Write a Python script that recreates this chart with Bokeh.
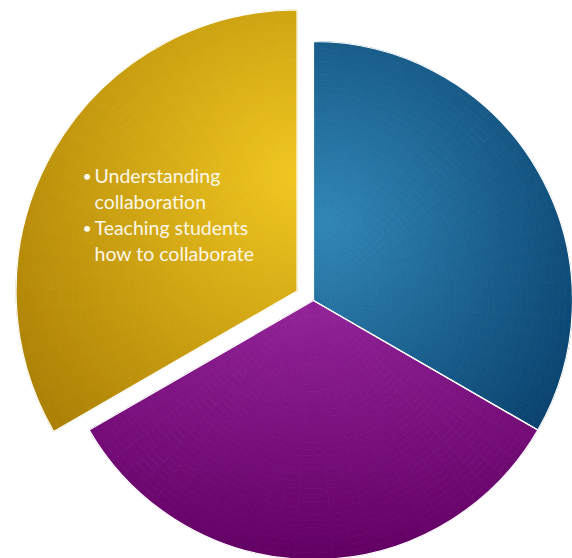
import math
from bokeh.plotting import figure
from bokeh.models import Range1d, ColumnDataSource
from bokeh.core.properties import value
from bokeh.embed import file_html
from bokeh.resources import INLINE

# ---- data ----
segments = ["Blue segment", "Purple segment", "Gold segment"]
shares = [1, 1, 1]
explode = [0, 0, 19]          # px pulled out along the mid angle
seg_radius = [259, 259, 281]
text_lines = ["Understanding", "collaboration", "Teaching students", "how to collaborate"]
text_bullet = [True, False, True, False]

# gradient styles (focus in page pixels, scale x / y, inner colour, outer colour)
grad = [
    ((325, 220), 300, 300, "#3086b6", "#09416d"),
    ((300, 300), 600, 255, "#922399", "#630064"),
    ((295, 175), 340, 340, "#f0c720", "#ad8105"),
]

# ---- layout (picture pixels; data y = -pixel y) ----
W, H = 572, 558
CX, CY = 313, 300


def hex2rgb(h):
    h = h.lstrip("#")
    return tuple(int(h[i:i + 2], 16) for i in (0, 2, 4))


def lerp(c0, c1, t):
    a, b = hex2rgb(c0), hex2rgb(c1)
    t = max(0.0, min(1.0, t))
    return "#%02x%02x%02x" % tuple(int(round(a[i] + (b[i] - a[i]) * t)) for i in range(3))


p = figure(width=W, height=H, x_range=Range1d(0, W), y_range=Range1d(-H, 0),
           output_backend="svg", toolbar_location=None, min_border=0,
           x_axis_type=None, y_axis_type=None)
p.grid.visible = False
p.outline_line_color = None
p.background_fill_color = "white"
p.border_fill_color = "white"

total = sum(shares)
cum = 0.0
outline = dict(x=[], y=[], r=[], s=[], e=[])
NR, NA = 40, 28
for i, v in enumerate(shares):
    a_start = math.pi / 2 - 2 * math.pi * cum / total
    a_end = math.pi / 2 - 2 * math.pi * (cum + v) / total
    cum += v
    mid = (a_start + a_end) / 2
    ox = CX + explode[i] * math.cos(mid)
    oy = -CY + explode[i] * math.sin(mid)
    R = seg_radius[i]
    (fx, fy), sx, sy, c0, c1 = grad[i]
    cells = dict(x=[], y=[], ri=[], ro=[], s=[], e=[], c=[])
    for ir in range(NR):
        r0 = R * ir / NR
        r1 = R * (ir + 1) / NR
        for ia in range(NA):
            s = a_end + (a_start - a_end) * ia / NA
            e = a_end + (a_start - a_end) * (ia + 1) / NA
            rm = (r0 + r1) / 2
            am = (s + e) / 2
            px = ox + rm * math.cos(am)
            py = -(oy + rm * math.sin(am))
            t = math.hypot((px - fx) / sx, (py - fy) / sy)
            cells["x"].append(ox)
            cells["y"].append(oy)
            cells["ri"].append(r0)
            cells["ro"].append(r1)
            cells["s"].append(s)
            cells["e"].append(e)
            cells["c"].append(lerp(c0, c1, t))
    p.annular_wedge(x="x", y="y", inner_radius="ri", outer_radius="ro",
                    start_angle="s", end_angle="e", fill_color="c", line_color="c",
                    line_width=0.8, source=ColumnDataSource(cells))
    outline["x"].append(ox)
    outline["y"].append(oy)
    outline["r"].append(R)
    outline["s"].append(a_end)
    outline["e"].append(a_start)

p.wedge(x="x", y="y", radius="r", start_angle="s", end_angle="e",
        fill_alpha=0, line_color="white", line_width=1.2,
        source=ColumnDataSource(outline))

# text
tx, ty, bx, by = [], [], [], []
y0, dy = 175, 26
for k, (line, b) in enumerate(zip(text_lines, text_bullet)):
    yy = -(y0 + dy * k)
    tx.append(94)
    ty.append(yy)
    if b:
        bx.append(82)
        by.append(yy)
p.text(x=tx, y=ty, text=text_lines, text_font=value("Lato"), text_font_size="19.5px",
       text_color="#fcf7e8", text_baseline="middle", text_align="left")
p.text(x=bx, y=by, text=["•"] * len(bx), text_font=value("Lato"), text_font_size="16px",
       text_color="#fcf7e8", text_baseline="middle", text_align="left")

open("out.html", "w").write(file_html(p, INLINE))
